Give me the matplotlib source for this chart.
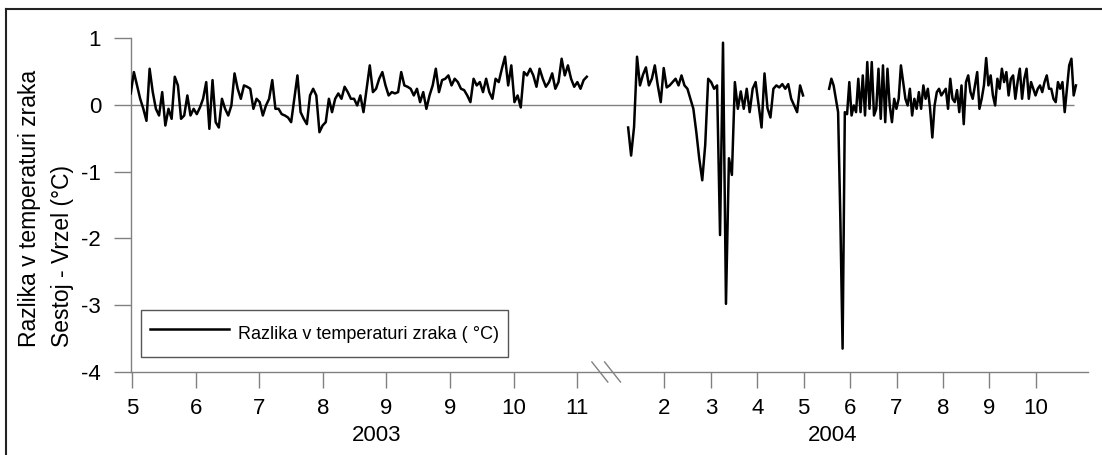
import numpy as np
import matplotlib.pyplot as plt
from matplotlib.lines import Line2D

plt.rcParams['font.family'] = ['Liberation Sans', 'DejaVu Sans']
plt.rcParams['axes.unicode_minus'] = False

# x os: enota = razmik med tickami v letu 2003 (prekinjena os)
ticks_2003 = [0, 1, 2, 3, 4, 5, 6, 7]
labels_2003 = ['5', '6', '7', '8', '9', '9', '10', '11']
ticks_2004 = [8.37, 9.10, 9.83, 10.56, 11.29, 12.02, 12.75, 13.48, 14.21]
labels_2004 = ['2', '3', '4', '5', '6', '7', '8', '9', '10']
year_pos = {'2003': 3.85, '2004': 11.02}
break_pos = 7.47

# razlika v temperaturi zraka, sestoj - vrzel (°C)
span_2003 = (-0.02, 7.15)
diff_2003 = [0.17, 0.49, 0.29, 0.09, -0.06, -0.24, 0.54, 0.19, -0.06, -0.16,
             0.19, -0.31, -0.06, -0.21, 0.42, 0.29, -0.21, -0.16, 0.14, -0.16,
             -0.06, -0.14, -0.04, 0.09, 0.34, -0.36, 0.37, -0.26, -0.34, 0.09,
             -0.06, -0.16, -0.01, 0.47, 0.24, 0.09, 0.29, 0.27, 0.24, -0.06,
             0.09, 0.04, -0.16, -0.01, 0.09, 0.37, -0.06, -0.06, -0.14, -0.16,
             -0.19, -0.26, 0.09, 0.44, -0.11, -0.21, -0.29, 0.14, 0.24, 0.14,
             -0.41, -0.31, -0.26, 0.09, -0.11, 0.09, 0.17, 0.09, 0.27, 0.19,
             0.09, 0.09, -0.01, 0.14, -0.11, 0.24, 0.59, 0.19, 0.24, 0.39,
             0.49, 0.29, 0.14, 0.19, 0.17, 0.19,
             0.49, 0.29, 0.27, 0.24, 0.14, 0.24, 0.04, 0.19, -0.06, 0.14,
             0.29, 0.54, 0.19, 0.37, 0.39, 0.44, 0.29, 0.39, 0.34, 0.24,
             0.22, 0.14, 0.04, 0.39, 0.29, 0.34, 0.19, 0.39, 0.19, 0.09,
             0.39, 0.34, 0.54, 0.72, 0.29, 0.59, 0.04, 0.14, -0.04, 0.49,
             0.44, 0.54, 0.44, 0.27, 0.54, 0.39, 0.27, 0.34, 0.47, 0.24,
             0.34, 0.69, 0.44, 0.59, 0.39, 0.27, 0.34, 0.24, 0.37, 0.42]

span_2004a = (7.80, 10.55)
diff_2004a = [-0.34, -0.76, -0.33, 0.72, 0.29, 0.45, 0.56, 0.29, 0.39, 0.59,
              0.29, 0.04, 0.55, 0.26, 0.29, 0.34, 0.39, 0.29, 0.44, 0.29,
              0.24, 0.09, -0.06, -0.41, -0.81, -1.13, -0.6, 0.39, 0.34, 0.24,
              0.29, -1.95, 0.93, -2.98, -0.8, -1.05, 0.34, -0.06, 0.2, -0.06,
              0.24, -0.11, 0.24, 0.34, 0.0, -0.34, 0.47, -0.05, -0.19, 0.24,
              0.29, 0.26, 0.31, 0.24, 0.31, 0.09, -0.01, -0.11, 0.29, 0.14]

span_2004b = (10.96, 14.84)
diff_2004b = [0.24, 0.39, 0.29, 0.09, -0.11, -1.7, -3.65, -0.11, -0.14, 0.34,
              -0.16, -0.01, -0.11, 0.39, -0.11, 0.44, -0.16, 0.64, -0.06, 0.64,
              -0.16, -0.06, 0.54, -0.21, 0.59, -0.26, 0.54, -0.01, -0.26, 0.09,
              -0.06, 0.09, 0.59, 0.34, 0.09, -0.01, 0.24, -0.16, 0.09, -0.06,
              0.19, -0.06, 0.29, 0.09, 0.24, -0.06, -0.49, -0.01, 0.19, 0.24,
              0.14, 0.19, 0.24, -0.06, 0.39, 0.09, 0.04, 0.22, -0.11, 0.29,
              -0.29, 0.34, 0.44, 0.19, 0.09, 0.29, 0.49, -0.06, 0.09, 0.29,
              0.70, 0.29, 0.44, 0.14, -0.01, 0.39, 0.24, 0.54, 0.34, 0.49,
              0.14, 0.39, 0.44, 0.09, 0.34, 0.54, 0.09, 0.39, 0.54, 0.09,
              0.34, 0.24, 0.14, 0.24, 0.29, 0.19, 0.34, 0.44, 0.24, 0.24,
              0.09, 0.04, 0.34, 0.24, 0.34, -0.11, 0.24, 0.59, 0.69, 0.14,
              0.29]

gray = '#808080'
W, H = 1102, 455
fig = plt.figure(figsize=(W / 100, H / 100), dpi=100)
ax = fig.add_axes([131 / W, (H - 372) / H, 957 / W, 334 / H])

ax.hlines(0, span_2003[0], 14.81, color=gray, lw=1.0, zorder=1)

first = True
for span, vals in [(span_2003, diff_2003), (span_2004a, diff_2004a), (span_2004b, diff_2004b)]:
    x = np.linspace(span[0], span[1], len(vals))
    ax.plot(x, vals, color='black', lw=1.8, zorder=3,
            label='Razlika v temperaturi zraka ( °C)' if first else None)
    first = False

ax.set_xlim(-0.016, 15.03)
ax.set_ylim(-4, 1)
ax.set_yticks([1, 0, -1, -2, -3, -4])
ax.set_xticks(ticks_2003 + ticks_2004)
ax.set_xticklabels(labels_2003 + labels_2004)

for s in ['top', 'right']:
    ax.spines[s].set_visible(False)
for s in ['left', 'bottom']:
    ax.spines[s].set_color(gray)
    ax.spines[s].set_linewidth(1.0)
ax.tick_params(axis='y', direction='out', length=12.5, width=1.0, color=gray,
               labelsize=16, pad=9)
ax.tick_params(axis='x', direction='out', length=11.5, width=1.0, color=gray,
               labelsize=16, pad=7)

for year, xp in year_pos.items():
    ax.text(xp, -0.189, year, transform=ax.get_xaxis_transform(),
            ha='center', va='center', fontsize=16)

# znak za prekinitev osi
for dx in [-0.12, 0.08]:
    ax.plot([break_pos + dx - 0.12, break_pos + dx + 0.13], [0.03, -0.03],
            transform=ax.get_xaxis_transform(), color=gray, lw=1.0, clip_on=False)

leg = ax.legend(loc='lower left', bbox_to_anchor=(0.0104, 0.045), fontsize=13,
                handlelength=4.4, handleheight=2.1, handletextpad=0.5,
                borderpad=0.5, fancybox=False, framealpha=1, borderaxespad=0)
leg.get_frame().set_edgecolor('#555555')
leg.get_frame().set_linewidth(1.0)

fig.text(30 / W, (H - 347) / H, 'Razlika v temperaturi zraka', rotation=90,
         ha='center', va='bottom', fontsize=16.5)
fig.text(62 / W, (H - 347) / H, 'Sestoj - Vrzel (°C)', rotation=90,
         ha='center', va='bottom', fontsize=16.5)

# okvir slike (levi in zgornji rob)
fig.add_artist(Line2D([6 / W, 6 / W], [0, (H - 9) / H], color='#222222', lw=1.5))
fig.add_artist(Line2D([6 / W, 1], [(H - 9) / H, (H - 9) / H], color='#222222', lw=1.5))

fig.savefig('out.png', dpi=100)
